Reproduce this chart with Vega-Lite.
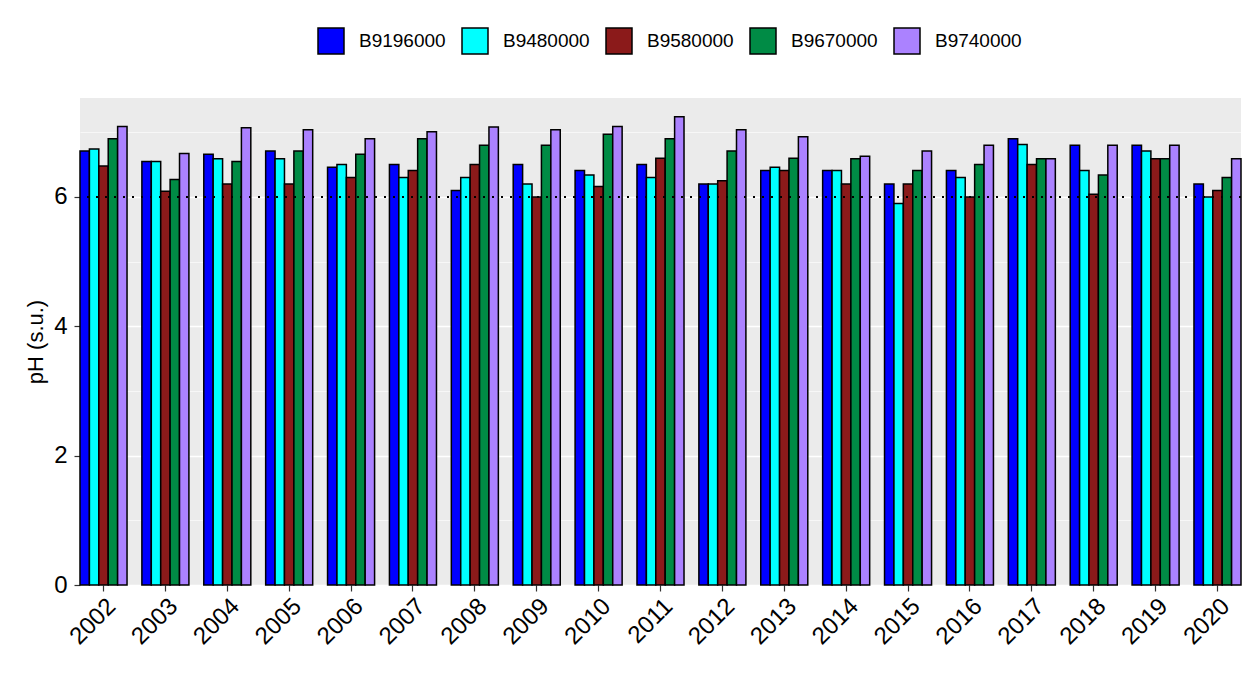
{
  "$schema": "https://vega.github.io/schema/vega-lite/v6.json",
  "autosize": {"type": "none"},
  "padding": {"left": 80, "top": 98, "right": 16, "bottom": 99},
  "width": 1161,
  "height": 487,
  "background": "white",
  "config": {
    "view": {"fill": "#EBEBEB", "stroke": null},
    "font": "Liberation Sans"
  },
  "data": {
    "values": [
      {"year": "2002", "station": "B9196000", "ph": 6.71},
      {"year": "2002", "station": "B9480000", "ph": 6.74},
      {"year": "2002", "station": "B9580000", "ph": 6.48},
      {"year": "2002", "station": "B9670000", "ph": 6.90},
      {"year": "2002", "station": "B9740000", "ph": 7.09},
      {"year": "2003", "station": "B9196000", "ph": 6.55},
      {"year": "2003", "station": "B9480000", "ph": 6.55},
      {"year": "2003", "station": "B9580000", "ph": 6.09},
      {"year": "2003", "station": "B9670000", "ph": 6.27},
      {"year": "2003", "station": "B9740000", "ph": 6.67},
      {"year": "2004", "station": "B9196000", "ph": 6.66},
      {"year": "2004", "station": "B9480000", "ph": 6.59},
      {"year": "2004", "station": "B9580000", "ph": 6.20},
      {"year": "2004", "station": "B9670000", "ph": 6.55},
      {"year": "2004", "station": "B9740000", "ph": 7.07},
      {"year": "2005", "station": "B9196000", "ph": 6.71},
      {"year": "2005", "station": "B9480000", "ph": 6.59},
      {"year": "2005", "station": "B9580000", "ph": 6.20},
      {"year": "2005", "station": "B9670000", "ph": 6.71},
      {"year": "2005", "station": "B9740000", "ph": 7.04},
      {"year": "2006", "station": "B9196000", "ph": 6.46},
      {"year": "2006", "station": "B9480000", "ph": 6.50},
      {"year": "2006", "station": "B9580000", "ph": 6.30},
      {"year": "2006", "station": "B9670000", "ph": 6.66},
      {"year": "2006", "station": "B9740000", "ph": 6.90},
      {"year": "2007", "station": "B9196000", "ph": 6.50},
      {"year": "2007", "station": "B9480000", "ph": 6.30},
      {"year": "2007", "station": "B9580000", "ph": 6.41},
      {"year": "2007", "station": "B9670000", "ph": 6.90},
      {"year": "2007", "station": "B9740000", "ph": 7.01},
      {"year": "2008", "station": "B9196000", "ph": 6.10},
      {"year": "2008", "station": "B9480000", "ph": 6.30},
      {"year": "2008", "station": "B9580000", "ph": 6.50},
      {"year": "2008", "station": "B9670000", "ph": 6.80},
      {"year": "2008", "station": "B9740000", "ph": 7.08},
      {"year": "2009", "station": "B9196000", "ph": 6.50},
      {"year": "2009", "station": "B9480000", "ph": 6.20},
      {"year": "2009", "station": "B9580000", "ph": 6.00},
      {"year": "2009", "station": "B9670000", "ph": 6.80},
      {"year": "2009", "station": "B9740000", "ph": 7.04},
      {"year": "2010", "station": "B9196000", "ph": 6.41},
      {"year": "2010", "station": "B9480000", "ph": 6.34},
      {"year": "2010", "station": "B9580000", "ph": 6.16},
      {"year": "2010", "station": "B9670000", "ph": 6.97},
      {"year": "2010", "station": "B9740000", "ph": 7.09},
      {"year": "2011", "station": "B9196000", "ph": 6.50},
      {"year": "2011", "station": "B9480000", "ph": 6.30},
      {"year": "2011", "station": "B9580000", "ph": 6.60},
      {"year": "2011", "station": "B9670000", "ph": 6.90},
      {"year": "2011", "station": "B9740000", "ph": 7.24},
      {"year": "2012", "station": "B9196000", "ph": 6.20},
      {"year": "2012", "station": "B9480000", "ph": 6.20},
      {"year": "2012", "station": "B9580000", "ph": 6.25},
      {"year": "2012", "station": "B9670000", "ph": 6.71},
      {"year": "2012", "station": "B9740000", "ph": 7.04},
      {"year": "2013", "station": "B9196000", "ph": 6.41},
      {"year": "2013", "station": "B9480000", "ph": 6.46},
      {"year": "2013", "station": "B9580000", "ph": 6.41},
      {"year": "2013", "station": "B9670000", "ph": 6.60},
      {"year": "2013", "station": "B9740000", "ph": 6.93},
      {"year": "2014", "station": "B9196000", "ph": 6.41},
      {"year": "2014", "station": "B9480000", "ph": 6.41},
      {"year": "2014", "station": "B9580000", "ph": 6.20},
      {"year": "2014", "station": "B9670000", "ph": 6.59},
      {"year": "2014", "station": "B9740000", "ph": 6.63},
      {"year": "2015", "station": "B9196000", "ph": 6.20},
      {"year": "2015", "station": "B9480000", "ph": 5.90},
      {"year": "2015", "station": "B9580000", "ph": 6.20},
      {"year": "2015", "station": "B9670000", "ph": 6.41},
      {"year": "2015", "station": "B9740000", "ph": 6.71},
      {"year": "2016", "station": "B9196000", "ph": 6.41},
      {"year": "2016", "station": "B9480000", "ph": 6.30},
      {"year": "2016", "station": "B9580000", "ph": 6.00},
      {"year": "2016", "station": "B9670000", "ph": 6.50},
      {"year": "2016", "station": "B9740000", "ph": 6.80},
      {"year": "2017", "station": "B9196000", "ph": 6.90},
      {"year": "2017", "station": "B9480000", "ph": 6.81},
      {"year": "2017", "station": "B9580000", "ph": 6.50},
      {"year": "2017", "station": "B9670000", "ph": 6.59},
      {"year": "2017", "station": "B9740000", "ph": 6.59},
      {"year": "2018", "station": "B9196000", "ph": 6.80},
      {"year": "2018", "station": "B9480000", "ph": 6.41},
      {"year": "2018", "station": "B9580000", "ph": 6.04},
      {"year": "2018", "station": "B9670000", "ph": 6.34},
      {"year": "2018", "station": "B9740000", "ph": 6.80},
      {"year": "2019", "station": "B9196000", "ph": 6.80},
      {"year": "2019", "station": "B9480000", "ph": 6.71},
      {"year": "2019", "station": "B9580000", "ph": 6.59},
      {"year": "2019", "station": "B9670000", "ph": 6.59},
      {"year": "2019", "station": "B9740000", "ph": 6.80},
      {"year": "2020", "station": "B9196000", "ph": 6.20},
      {"year": "2020", "station": "B9480000", "ph": 6.00},
      {"year": "2020", "station": "B9580000", "ph": 6.10},
      {"year": "2020", "station": "B9670000", "ph": 6.30},
      {"year": "2020", "station": "B9740000", "ph": 6.59}
    ]
  },
  "layer": [
    {
      "mark": {"type": "bar", "stroke": "black", "strokeWidth": 1.5},
      "encoding": {
        "x": {
          "field": "year",
          "type": "nominal",
          "scale": {"paddingInner": 0.24, "paddingOuter": 0},
          "axis": {
            "title": null,
            "domain": false,
            "grid": false,
            "tickColor": "#333333",
            "tickSize": 6,
            "tickWidth": 1.2,
            "labelAngle": -45,
            "labelAlign": "right",
            "labelBaseline": "top",
            "labelPadding": 3,
            "labelFontSize": 24,
            "labelColor": "black",
            "labelFont": "Liberation Sans"
          }
        },
        "xOffset": {"field": "station", "type": "nominal"},
        "y": {
          "field": "ph",
          "type": "quantitative",
          "scale": {"domain": [0, 7.53], "nice": false, "zero": true},
          "axis": {
            "title": "pH (s.u.)",
            "titleFontSize": 22,
            "titleFontWeight": "normal",
            "titleColor": "black",
            "titleFont": "Liberation Sans",
            "titlePadding": 6,
            "values": [0, 1, 2, 3, 4, 5, 6, 7],
            "format": "d",
            "labelExpr": "datum.value % 2 === 0 ? datum.label : ''",
            "domain": false,
            "grid": true,
            "gridColor": "white",
            "gridWidth": {"condition": {"test": "datum.value % 2 === 1", "value": 0.6}, "value": 1.3},
            "tickColor": "#333333",
            "tickOpacity": {"condition": {"test": "datum.value % 2 === 1", "value": 0}, "value": 1},
            "tickSize": 6,
            "tickWidth": 1.2,
            "labelPadding": 7,
            "labelFontSize": 24,
            "labelColor": "black",
            "labelFont": "Liberation Sans"
          }
        },
        "color": {
          "field": "station",
          "type": "nominal",
          "scale": {
            "domain": ["B9196000", "B9480000", "B9580000", "B9670000", "B9740000"],
            "range": ["#0000FF", "#00FFFF", "#8B1A1A", "#008B45", "#AB82FF"]
          },
          "legend": {
            "title": null,
            "orient": "none",
            "direction": "horizontal",
            "legendX": 237,
            "legendY": -71,
            "padding": 0,
            "symbolType": "square",
            "symbolSize": 676,
            "symbolStrokeColor": "black",
            "symbolStrokeWidth": 1.5,
            "symbolOpacity": 1,
            "labelFontSize": 19,
            "labelFont": "Liberation Sans",
            "labelColor": "black",
            "labelOffset": 14,
            "columnPadding": 13
          }
        }
      }
    },
    {
      "mark": {"type": "rule", "color": "black", "strokeWidth": 2, "strokeDash": [2, 7]},
      "encoding": {"y": {"datum": 6}}
    }
  ]
}
